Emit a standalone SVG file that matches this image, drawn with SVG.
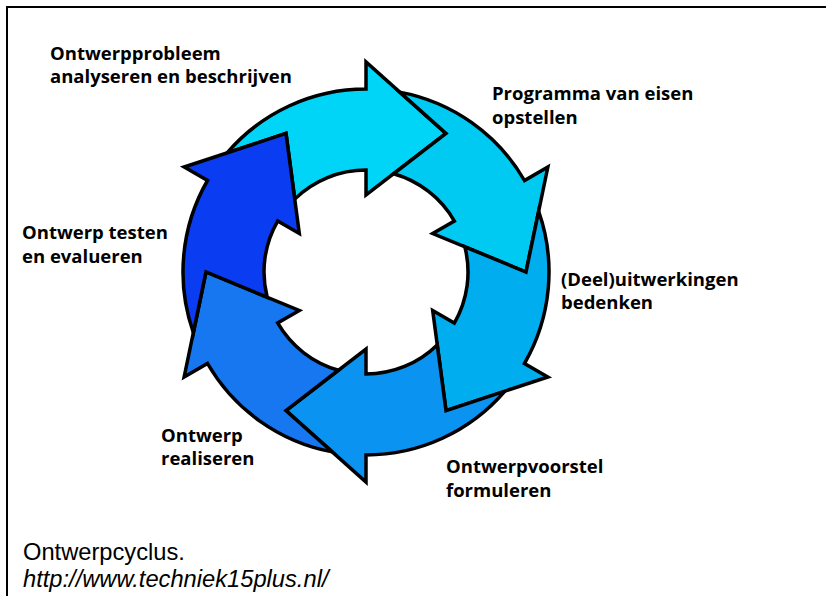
<svg xmlns="http://www.w3.org/2000/svg" xmlns:xlink="http://www.w3.org/1999/xlink" width="826" height="596" viewBox="0 0 826 596">
<style>
.lbl{font-family:"Open Sans","Noto Sans","Liberation Sans",sans-serif;font-weight:700;font-size:18.5px;fill:#000}
.cap{font-family:"Liberation Sans",Arial,sans-serif;font-size:23.7px;fill:#000}
.arr{stroke:#000;stroke-width:3.5;stroke-linejoin:miter;stroke-miterlimit:10}
</style>
<defs>
<path id="arrow" d="M 227.1 152.85 A 183 183 0 0 1 366 89 L 366 62 L 446 133.44 L 366 195 L 366 170 A 102 102 0 0 0 294.75 199.01 L 286 133.44 Z"/>
</defs>
<rect x="0" y="0" width="826" height="596" fill="#fff"/>
<g id="frame" stroke="#000" stroke-width="2" fill="none">
<line x1="6" y1="7" x2="826" y2="7"/>
<line x1="7" y1="6" x2="7" y2="596"/>
</g>
<g id="connectors">
<use id="arrow1" xlink:href="#arrow" class="arr" fill="#00D4F7"/>
<use id="arrow2" xlink:href="#arrow" class="arr" fill="#00C9F2" transform="rotate(60 366 272)"/>
<use id="arrow3" xlink:href="#arrow" class="arr" fill="#00ADEF" transform="rotate(120 366 272)"/>
<use id="arrow4" xlink:href="#arrow" class="arr" fill="#0A93F0" transform="rotate(180 366 272)"/>
<use id="arrow5" xlink:href="#arrow" class="arr" fill="#1677F0" transform="rotate(240 366 272)"/>
<use id="arrow6" xlink:href="#arrow" class="arr" fill="#0A3DF2" transform="rotate(300 366 272)"/>
</g>
<g id="node-analyse"><text class="lbl" x="50" y="59.5">Ontwerpprobleem</text><text class="lbl" x="50" y="83">analyseren en beschrijven</text></g>
<g id="node-pve"><text class="lbl" x="492" y="100">Programma van eisen</text><text class="lbl" x="492" y="123.5">opstellen</text></g>
<g id="node-deel"><text class="lbl" x="561" y="285.5">(Deel)uitwerkingen</text><text class="lbl" x="561" y="309">bedenken</text></g>
<g id="node-voorstel"><text class="lbl" x="446" y="473">Ontwerpvoorstel</text><text class="lbl" x="446" y="496.5">formuleren</text></g>
<g id="node-realiseren"><text class="lbl" x="161" y="441.5">Ontwerp</text><text class="lbl" x="161" y="465">realiseren</text></g>
<g id="node-testen"><text class="lbl" x="22" y="239">Ontwerp testen</text><text class="lbl" x="22" y="262.5">en evalueren</text></g>
<g id="caption"><text class="cap" x="23" y="560">Ontwerpcyclus.</text><text class="cap" x="23" y="587" font-style="italic">http://www.techniek15plus.nl/</text></g>
</svg>
